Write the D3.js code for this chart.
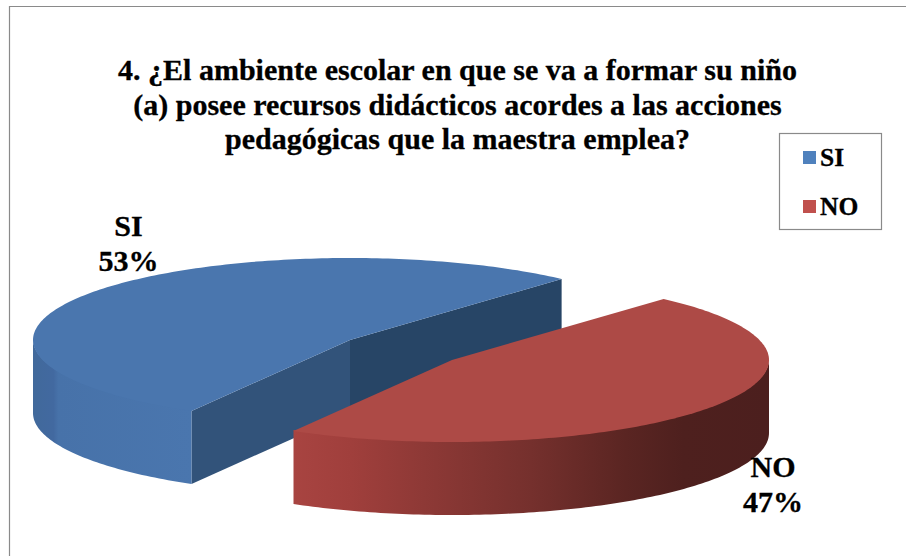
<!DOCTYPE html>
<html>
<head>
<meta charset="utf-8">
<script src="https://cdn.jsdelivr.net/npm/d3@7"></script>
<style>html,body{margin:0;padding:0;background:#fff}svg{display:block}text{font-family:"Liberation Serif",serif;font-weight:bold;fill:#000;stroke:#000;stroke-width:.3}</style>
</head>
<body>
<svg id="c" width="906" height="556"></svg>
<script>
const categories = ["SI", "NO"];
const values = [53.3, 46.7];
const labels = ["53%", "47%"];
const titleLines = ["4. ¿El ambiente escolar en que se va a formar su niño", "(a) posee recursos didácticos acordes a las acciones", "pedagógicas que la maestra emplea?"];
const topColors = ["#4a76ae", "#ad4a46"];
const legendColors = ["#4f81bd", "#c0504d"];

const svg = d3.select("#c");
const W = 906, H = 556;
const rx = 317, ry = 82, depth = 73;
const centers = [[350, 340], [452, 360]];
const rad = Math.PI / 180;

const pie = d3.pie().sort(null).startAngle(210 * rad).endAngle(570 * rad);
const arcs = pie(values);

// frame
svg.append("path").attr("d", `M9.5,${H}V6.5H${W}`).attr("fill", "none").attr("stroke", "#8a8a8a").attr("stroke-width", 1.2);

const defs = svg.append("defs");
const blueG = defs.append("linearGradient").attr("id", "gBlue").attr("gradientUnits", "userSpaceOnUse").attr("x1", 33).attr("x2", 191).attr("y1", 0).attr("y2", 0);
[[0, "#41699b"], [0.13, "#4269a0"], [0.16, "#4772a9"], [1, "#4a76ae"]].forEach(s => blueG.append("stop").attr("offset", s[0]).attr("stop-color", s[1]));
const redG = defs.append("linearGradient").attr("id", "gRed").attr("gradientUnits", "userSpaceOnUse").attr("x1", 293).attr("x2", 769).attr("y1", 0).attr("y2", 0);
[[0, "#a84441"], [0.12, "#a03f3c"], [0.3, "#8b3835"], [0.5, "#75302d"], [0.7, "#5a2522"], [0.82, "#4e201e"], [1, "#4c1f1e"]].forEach(s => redG.append("stop").attr("offset", s[0]).attr("stop-color", s[1]));

// map a pie angle (clockwise from 12 o'clock) on to the tilted ellipse
function pt(a, c, dy) {
  return [c[0] + rx * Math.sin(a), c[1] - ry * Math.cos(a) + (dy || 0)];
}
function samples(a0, a1) {
  const n = Math.max(2, Math.ceil(Math.abs(a1 - a0) / rad));
  return d3.range(n + 1).map(i => a0 + (a1 - a0) * i / n);
}
const line = d3.line();

// SI
{
  const d = arcs[0], c = centers[0], g = svg.append("g");
  const a0 = d.startAngle, a1 = d.endAngle;
  const apexB = [c[0], c[1] + depth];
  g.append("path").attr("d", line([c, pt(a1, c), pt(a1, c, depth), apexB]) + "Z").attr("fill", "#274566");
  g.append("path").attr("d", line([c, pt(a0, c), pt(a0, c, depth), apexB]) + "Z").attr("fill", "#32537a");
  const rimA = samples(a0, 270 * rad);
  const rim = rimA.map(a => pt(a, c, -1)).concat(rimA.slice().reverse().map(a => pt(a, c, depth)));
  g.append("path").attr("d", line(rim) + "Z").attr("fill", "url(#gBlue)");
  const top = [c].concat(samples(a0, a1).map(a => pt(a, c)));
  g.append("path").attr("d", line(top) + "Z").attr("fill", topColors[0]);
}
// NO
{
  const d = arcs[1], c = centers[1], g = svg.append("g");
  const a0 = d.startAngle, a1 = d.endAngle;
  const rimA = samples(450 * rad, a1);
  const rim = rimA.map(a => pt(a, c, -1)).concat(rimA.slice().reverse().map(a => pt(a, c, depth)));
  g.append("path").attr("d", line(rim) + "Z").attr("fill", "url(#gRed)");
  const top = [c].concat(samples(a0, a1).map(a => pt(a, c)));
  g.append("path").attr("d", line(top) + "Z").attr("fill", topColors[1]);
}

// title
const titleBase = [80, 114.5, 149];
svg.append("g").selectAll("text").data(titleLines).join("text")
  .attr("x", 457.5).attr("y", (d, i) => titleBase[i]).attr("text-anchor", "middle")
  .attr("font-size", 30).text(d => d);

// data labels
const labelPos = [[128.5, 236], [773, 477]];
categories.forEach((c, i) => {
  const t = svg.append("text").attr("text-anchor", "middle").attr("font-size", 30);
  t.append("tspan").attr("x", labelPos[i][0]).attr("y", labelPos[i][1]).text(c);
  t.append("tspan").attr("x", labelPos[i][0]).attr("y", labelPos[i][1] + 34.5).text(labels[i]);
});

// legend
svg.append("rect").attr("x", 779.5).attr("y", 133.5).attr("width", 102).attr("height", 96).attr("fill", "#fff").attr("stroke", "#8a8a8a").attr("stroke-width", 1.2);
const leg = svg.append("g").selectAll("g").data(categories).join("g").attr("transform", (d, i) => `translate(803,${151 + i * 49})`);
leg.append("rect").attr("width", 13).attr("height", 13).attr("fill", (d, i) => legendColors[i]);
leg.append("text").attr("x", 17).attr("y", 15).attr("font-size", 25.5).text(d => d);
</script>
</body>
</html>
